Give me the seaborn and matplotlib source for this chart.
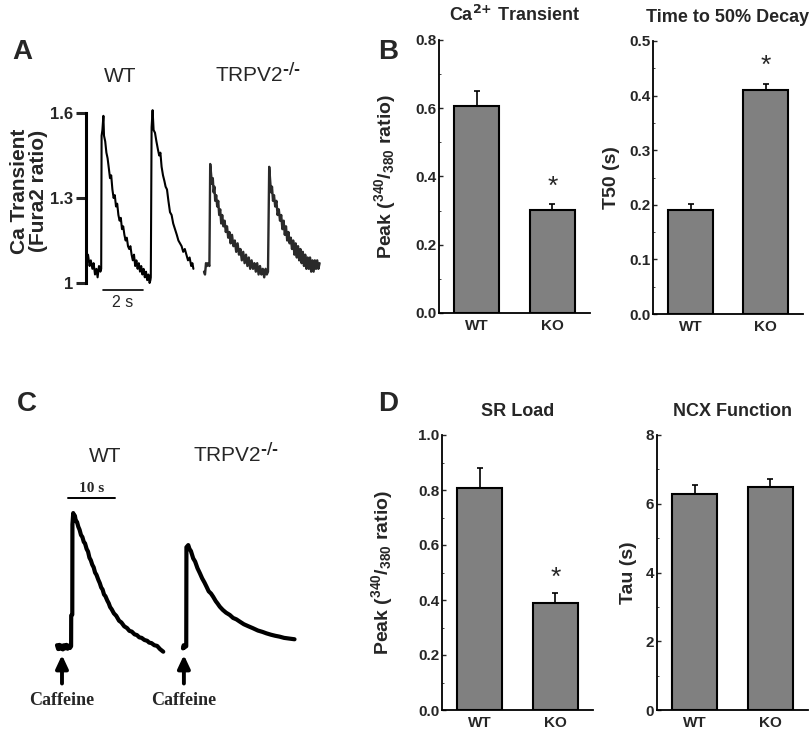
import numpy as np
import pandas as pd
import seaborn as sns
import matplotlib.pyplot as plt
from matplotlib.ticker import AutoMinorLocator

sns.set_style('white')
plt.rcParams['font.family'] = ['Liberation Sans', 'DejaVu Sans']
plt.rcParams['font.weight'] = 'bold'
plt.rcParams['mathtext.default'] = 'regular'

# ---- bar chart data (mean, SEM) ----
groups = ['WT', 'KO']
peak_ca = [0.608, 0.302]
peak_ca_err = [0.043, 0.017]
t50 = [0.190, 0.411]
t50_err = [0.011, 0.010]
sr_load = [0.806, 0.388]
sr_load_err = [0.073, 0.036]
ncx_tau = [6.28, 6.49]
ncx_tau_err = [0.26, 0.22]

# ---- panel A: paced Ca transients (time s, Fura2 ratio) ----
wt_a_t = [0.00, 0.08, 0.14, 0.22, 0.28, 0.35, 0.42, 0.48, 0.55, 0.62, 0.66, 0.68, 0.72, 0.77,
          0.80, 0.86, 0.92, 0.98, 1.05, 1.10, 1.16, 1.22, 1.28, 1.34, 1.40, 1.46, 1.52, 1.58,
          1.64, 1.70, 1.76, 1.82, 1.88, 1.94, 2.00, 2.06, 2.12, 2.18, 2.24, 2.30, 2.36, 2.42,
          2.48, 2.54, 2.60, 2.66, 2.72, 2.78, 2.84, 2.90, 2.96, 3.02, 3.08, 3.12,
          3.14, 3.18, 3.23, 3.28, 3.35, 3.42, 3.50, 3.56, 3.62, 3.68, 3.75, 3.82, 3.88, 3.95,
          4.02, 4.10, 4.18, 4.26, 4.35, 4.44, 4.52, 4.60, 4.68, 4.76, 4.84, 4.92, 5.00, 5.08,
          5.16, 5.22, 5.27]
wt_a_r = [1.10, 1.06, 1.08, 1.05, 1.07, 1.03, 1.05, 1.02, 1.06, 1.04, 1.05, 1.52, 1.54, 1.59,
          1.52, 1.50, 1.46, 1.44, 1.40, 1.37, 1.38, 1.33, 1.30, 1.31, 1.27, 1.28, 1.24, 1.22,
          1.23, 1.19, 1.20, 1.17, 1.15, 1.16, 1.13, 1.12, 1.13, 1.10, 1.08, 1.10, 1.06, 1.08,
          1.05, 1.07, 1.04, 1.06, 1.03, 1.05, 1.02, 1.04, 1.01, 1.03, 1.00, 1.01,
          1.02, 1.55, 1.61, 1.54, 1.53, 1.50, 1.47, 1.45, 1.46, 1.41, 1.38, 1.36, 1.34, 1.33,
          1.29, 1.25, 1.24, 1.21, 1.19, 1.17, 1.15, 1.14, 1.13, 1.11, 1.12, 1.10, 1.08, 1.09,
          1.06, 1.07, 1.05]
ko_a_t = [0.00, 0.05, 0.10, 0.15, 0.20, 0.27, 0.31, 0.36, 0.40, 0.44, 0.48, 0.52, 0.56, 0.61,
          0.66, 0.71, 0.76, 0.81, 0.86, 0.91, 0.97, 1.03, 1.09, 1.15, 1.21, 1.27, 1.33, 1.40,
          1.47, 1.54, 1.61, 1.68, 1.75, 1.82, 1.89, 1.96, 2.03, 2.10, 2.17, 2.24, 2.31, 2.38,
          2.45, 2.52, 2.59, 2.66, 2.73, 2.80, 2.87, 2.94, 3.01, 3.08, 3.14, 3.20,
          3.26, 3.31, 3.35, 3.40, 3.45, 3.50, 3.56, 3.62, 3.68, 3.74, 3.80, 3.86, 3.92, 3.98,
          4.04, 4.10, 4.16, 4.22, 4.28, 4.34, 4.40, 4.46, 4.52, 4.58, 4.64, 4.70, 4.76, 4.82,
          4.88, 4.94, 5.00, 5.06, 5.12, 5.18, 5.24, 5.30, 5.36, 5.42, 5.48, 5.54, 5.60, 5.66,
          5.72, 5.78]
ko_a_r = [1.04, 1.03, 1.07, 1.06, 1.07, 1.06, 1.42, 1.38, 1.35, 1.37, 1.32, 1.34, 1.29, 1.31,
          1.27, 1.29, 1.24, 1.26, 1.21, 1.24, 1.20, 1.22, 1.18, 1.20, 1.16, 1.18, 1.14, 1.17,
          1.13, 1.15, 1.11, 1.14, 1.10, 1.12, 1.08, 1.11, 1.07, 1.10, 1.06, 1.09, 1.05, 1.08,
          1.05, 1.07, 1.04, 1.07, 1.03, 1.06, 1.03, 1.05, 1.02, 1.05, 1.03, 1.04,
          1.41, 1.36, 1.32, 1.34, 1.29, 1.31, 1.27, 1.29, 1.24, 1.26, 1.22, 1.24, 1.19, 1.22,
          1.17, 1.20, 1.15, 1.18, 1.14, 1.16, 1.12, 1.15, 1.10, 1.14, 1.09, 1.13, 1.08, 1.12,
          1.07, 1.11, 1.06, 1.10, 1.05, 1.09, 1.05, 1.09, 1.04, 1.08, 1.04, 1.08, 1.05, 1.08,
          1.05, 1.07]

# ---- panel C: caffeine-induced transients (time s, delta ratio) ----
wt_c_t = [0.00, 0.25, 0.50, 0.75, 1.00, 1.25, 1.50, 1.75, 2.00, 2.25, 2.50, 2.75, 3.00, 3.02,
          3.25, 3.28, 3.45, 3.60, 3.80, 4.00, 4.25, 4.53, 4.80, 5.10, 5.40, 5.70, 5.96, 6.30,
          6.60, 6.90, 7.20, 7.50, 7.80, 8.10, 8.40, 8.80, 9.10, 9.40, 9.70, 10.00, 10.30, 10.70,
          11.00, 11.30, 11.64, 12.10, 12.60, 13.20, 13.70, 14.30, 14.90, 15.40, 15.90, 16.50,
          17.00, 17.50, 18.00, 18.60, 19.20, 19.60, 20.10, 20.70, 21.30, 21.90, 22.60]
wt_c_r = [0.010, -0.012, 0.012, -0.010, 0.008, -0.014, 0.010, -0.008, 0.012, -0.010, 0.008,
          -0.006, 0.004, 0.180, 0.185, 0.700, 0.765, 0.745, 0.750, 0.720, 0.715, 0.687, 0.670,
          0.640, 0.628, 0.600, 0.592, 0.560, 0.545, 0.510, 0.495, 0.470, 0.455, 0.425, 0.412,
          0.383, 0.365, 0.340, 0.328, 0.300, 0.290, 0.265, 0.250, 0.228, 0.215, 0.192, 0.178,
          0.150, 0.140, 0.118, 0.108, 0.092, 0.088, 0.072, 0.068, 0.055, 0.052, 0.040, 0.035,
          0.025, 0.022, 0.010, 0.006, -0.012, -0.027]
ko_c_t = [0.00, 0.15, 0.30, 0.55, 0.70, 0.74, 1.13, 1.40, 1.70, 2.19, 2.60, 3.10, 3.62, 4.10,
          4.60, 5.04, 5.50, 6.00, 6.45, 7.00, 7.40, 7.87, 8.50, 9.20, 10.00, 10.70, 11.40, 12.13,
          13.00, 14.00, 14.96, 16.00, 17.00, 17.81, 18.80, 19.70, 20.64, 21.60, 22.70, 23.83]
ko_c_r = [-0.008, 0.010, -0.004, 0.002, 0.004, 0.570, 0.582, 0.560, 0.548, 0.506, 0.488, 0.450,
          0.421, 0.392, 0.368, 0.344, 0.318, 0.305, 0.287, 0.262, 0.248, 0.230, 0.212, 0.196,
          0.183, 0.166, 0.158, 0.145, 0.130, 0.118, 0.107, 0.094, 0.086, 0.078, 0.070, 0.064,
          0.059, 0.052, 0.048, 0.044]

W, H = 810, 731
fig = plt.figure(figsize=(W / 100, H / 100), dpi=100)


def rect(x0, y0, x1, y1):
    # pixel box -> figure fraction
    return [x0 / W, 1 - y1 / H, (x1 - x0) / W, (y1 - y0) / H]


def ftext(px, py, s, **kw):
    return fig.text(px / W, 1 - py / H, s, **kw)


def bar_panel(box, vals, errs, ylim, yticks, ticklabels, title, ylabel, label_x, star_y=None):
    ax = fig.add_axes(rect(*box))
    df = pd.DataFrame({'group': groups, 'value': vals})
    ax.errorbar([0, 1], vals, yerr=[[0, 0], errs], fmt='none', ecolor='black',
                elinewidth=1.2, capsize=2.5, capthick=1.2)
    sns.barplot(data=df, x='group', y='value', color='#808080', saturation=1,
                edgecolor='black', linewidth=1.5, width=0.6, ax=ax)
    ax.set_xlim(-0.5, 1.5)
    ax.set_ylim(*ylim)
    ax.set_yticks(yticks)
    ax.set_yticklabels(ticklabels, fontweight='bold', fontsize=11)
    ax.set_xticks([0, 1])
    ax.set_xticklabels(groups, fontweight='bold', fontsize=11)
    ax.yaxis.set_minor_locator(AutoMinorLocator(2))
    ax.tick_params(axis='y', which='major', left=True, direction='in', length=3, width=1, pad=2)
    ax.tick_params(axis='y', which='minor', left=True, direction='in', length=1.5, width=0.6)
    ax.tick_params(axis='x', bottom=False, pad=1)
    ax.set_xlabel('')
    ax.set_ylabel(ylabel, fontsize=14, fontweight='bold')
    ax.yaxis.set_label_coords(label_x, 0.5)
    ax.set_title(title, fontsize=13, fontweight='bold', pad=14)
    sns.despine(ax=ax)
    for sp in ['left', 'bottom']:
        ax.spines[sp].set_linewidth(1.3)
        ax.spines[sp].set_color('black')
    if star_y is not None:
        ax.text(1, star_y, '*', ha='center', va='center', fontsize=19, fontweight='normal')
    return ax


bar_panel((439, 40, 590, 313), peak_ca, peak_ca_err, (0, 0.8), [0, 0.2, 0.4, 0.6, 0.8],
          ['0.0', '0.2', '0.4', '0.6', '0.8'], r'Ca$^{\text{2+}}$ Transient',
          r'Peak ($^{340}$/$_{380}$ ratio)', -0.27, star_y=0.37)
bar_panel((653, 41, 803, 314), t50, t50_err, (0, 0.5), [0, 0.1, 0.2, 0.3, 0.4, 0.5],
          ['0.0', '0.1', '0.2', '0.3', '0.4', '0.5'], 'Time to 50% Decay', 'T50 (s)', -0.22,
          star_y=0.455)
bar_panel((442, 435, 593, 710), sr_load, sr_load_err, (0, 1.0), [0, 0.2, 0.4, 0.6, 0.8, 1.0],
          ['0.0', '0.2', '0.4', '0.6', '0.8', '1.0'], 'SR Load',
          r'Peak ($^{340}$/$_{380}$ ratio)', -0.31, star_y=0.48)
bar_panel((657, 435, 808, 710), ncx_tau, ncx_tau_err, (0, 8), [0, 2, 4, 6, 8],
          ['0', '2', '4', '6', '8'], 'NCX Function', 'Tau (s)', -0.13)

# ---- panel A traces ----
ax_aw = fig.add_axes(rect(86, 113, 200, 283))
sns.lineplot(x=wt_a_t, y=wt_a_r, ax=ax_aw, color='black', lw=1.5, estimator=None,
             sort=False, clip_on=False)
ax_aw.set_xlim(-0.1, 5.6)
ax_aw.set_ylim(1.0, 1.6)
ax_aw.set_yticks([1.0, 1.3, 1.6])
ax_aw.set_yticklabels(['1', '1.3', '1.6'], fontweight='bold', fontsize=12)
ax_aw.set_xticks([])
ax_aw.tick_params(axis='y', left=True, direction='out', length=7, width=2.2, pad=2)
for sp in ['top', 'right', 'bottom']:
    ax_aw.spines[sp].set_visible(False)
ax_aw.spines['left'].set_linewidth(2.2)
ax_aw.spines['left'].set_color('black')
ax_aw.patch.set_alpha(0)
# 2 s scale bar
ax_aw.plot([0.75, 2.75], [0.975, 0.975], color='black', lw=1.2, clip_on=False)
ax_aw.text(1.75, 0.93, '2 s', ha='center', va='center', fontsize=11.5, fontweight='normal')

ax_ak = fig.add_axes(rect(200, 113, 322, 283))
sns.lineplot(x=ko_a_t, y=ko_a_r, ax=ax_ak, color='#2a2a2a', lw=1.7, estimator=None,
             sort=False, clip_on=False)
ax_ak.set_xlim(-0.2, 5.9)
ax_ak.set_ylim(1.0, 1.6)
ax_ak.axis('off')

ftext(29, 191, 'Ca Transient\n(Fura2 ratio)', rotation=90, ha='center', va='center',
      fontsize=15, fontweight='bold', linespacing=1.0)
ftext(120, 82, 'WT', ha='center', va='baseline', fontsize=15, fontweight='normal')
ftext(215, 82, r'TRPV2$^{\text{-/-}}$', ha='left', va='baseline', fontsize=15,
      fontweight='normal')

# ---- panel C traces ----
ax_cw = fig.add_axes(rect(50, 480, 175, 665))
sns.lineplot(x=wt_c_t, y=wt_c_r, ax=ax_cw, color='black', lw=3.0, estimator=None,
             sort=False, clip_on=False)
ax_cw.set_xlim(-1.49, 25.1)
ax_cw.set_ylim(-0.103, 0.954)
ax_cw.axis('off')
ax_cw.plot([2.34, 12.34], [0.851, 0.851], color='black', lw=1.4, clip_on=False)
ax_cw.text(7.34, 0.905, '10 s', ha='center', va='center', fontsize=11,
           family=['Liberation Serif'], fontweight='bold')

ax_ck = fig.add_axes(rect(178, 480, 300, 665))
sns.lineplot(x=ko_c_t, y=ko_c_r, ax=ax_ck, color='black', lw=3.0, estimator=None,
             sort=False, clip_on=False)
ax_ck.set_xlim(-1.06, 25.0)
ax_ck.set_ylim(-0.103, 0.954)
ax_ck.axis('off')

for ax, t0 in [(ax_cw, 1.06), (ax_ck, 0.2)]:
    ax.annotate('Caffeine', xy=(t0, -0.046), xytext=(0, -33), textcoords='offset points',
                ha='center', va='center', fontsize=13, family=['Liberation Serif'],
                fontweight='bold', annotation_clip=False,
                arrowprops=dict(arrowstyle='-|>,head_width=0.28,head_length=0.6',
                                color='black', lw=2.8, shrinkA=4, shrinkB=0))

ftext(105, 462, 'WT', ha='center', va='baseline', fontsize=15, fontweight='normal')
ftext(193, 462, r'TRPV2$^{\text{-/-}}$', ha='left', va='baseline', fontsize=15,
      fontweight='normal')

# ---- panel letters ----
for s, px, py in [('A', 22, 52), ('B', 388, 52), ('C', 27, 404), ('D', 388, 404)]:
    ftext(px, py, s, ha='center', va='center', fontsize=20, fontweight='bold')

fig.savefig('out.png', dpi=100)
